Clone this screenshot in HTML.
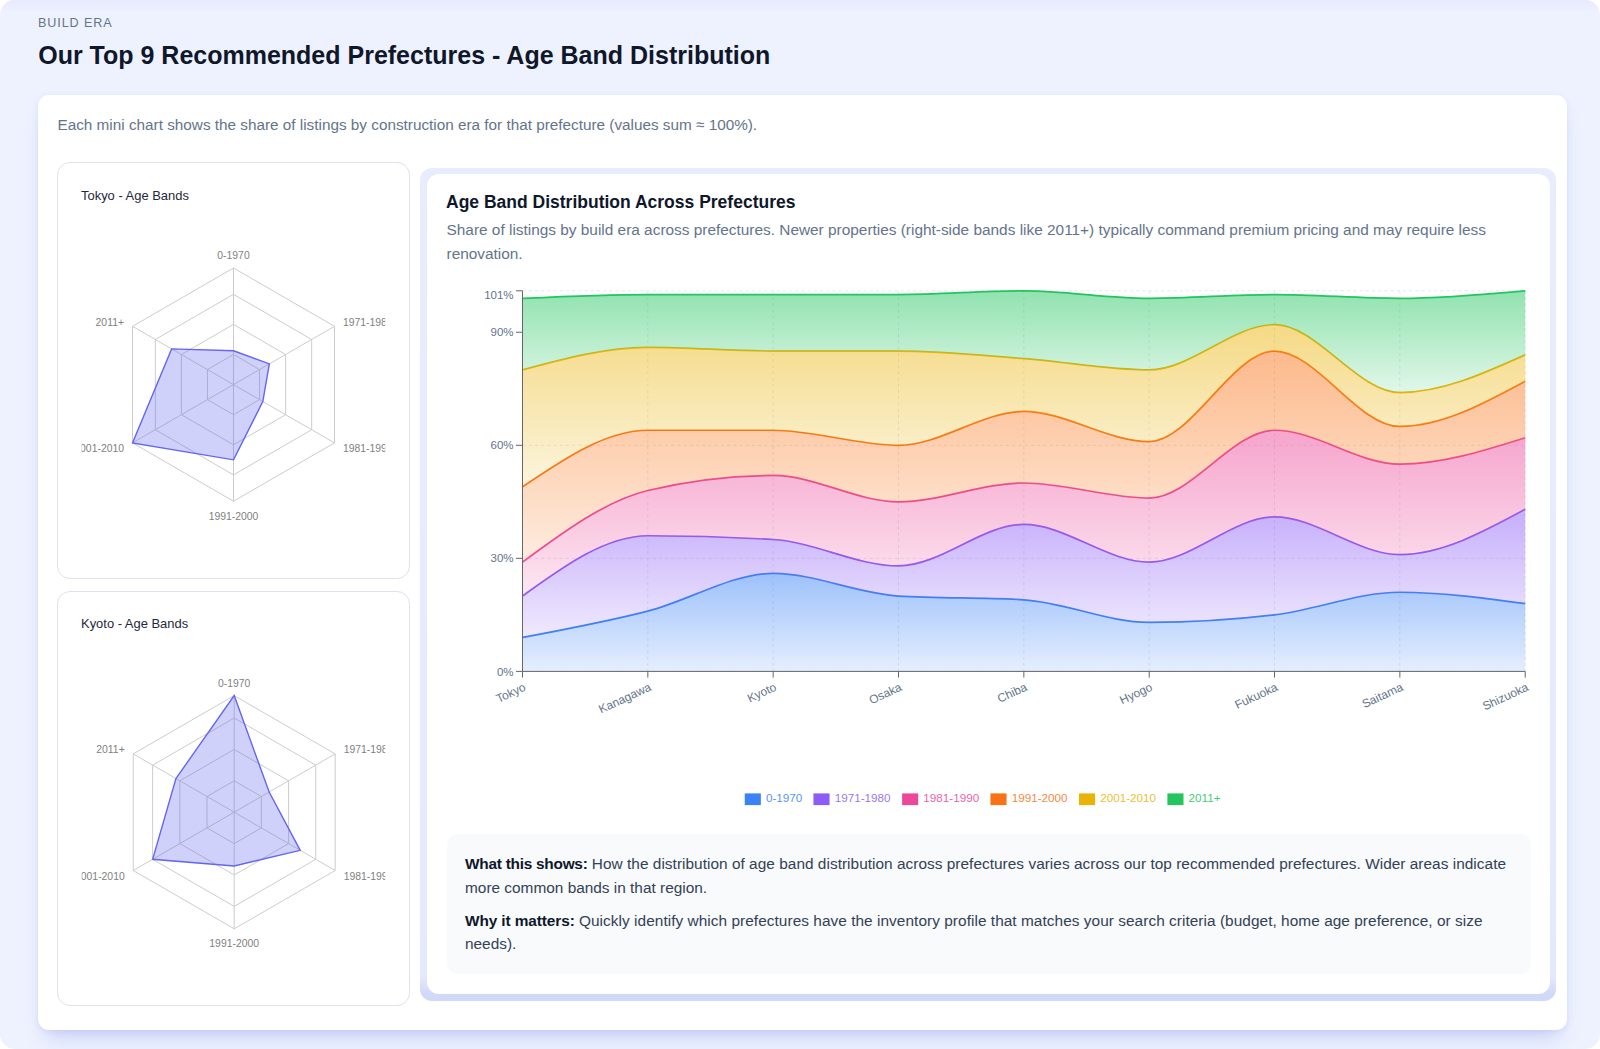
<!DOCTYPE html>
<html lang="en"><head><meta charset="utf-8"><title>Age Band Distribution</title>
<style>
*{box-sizing:border-box}
html,body{margin:0;padding:0;background:#fff}
body{font-family:"Liberation Sans",sans-serif;color:#0f172a;width:1600px;height:1049px;overflow:hidden;position:relative}
.section{position:absolute;left:0;top:0;width:1600px;height:1049px;background:linear-gradient(180deg,#e7e9fd 0px,#eef2fe 12px);border-radius:15px;overflow:hidden}
.abs{position:absolute;white-space:nowrap;line-height:1}
.eyebrow{left:38px;top:15.6px;font-size:12.6px;letter-spacing:0.9px;color:#64748b;line-height:14px}
h1{margin:0;left:38.2px;top:43.1px;font-size:25px;font-weight:700;color:#0f172a;line-height:29px}
.card{position:absolute;left:38px;top:94.8px;width:1529px;height:934.8px;background:#fff;border-radius:11px;box-shadow:0 1px 6px rgba(85,105,225,.10),0 14px 20px -8px rgba(85,105,225,.27)}
.sub{left:57.5px;top:116.4px;font-size:15.3px;color:#64748b;line-height:18px}
.mini{position:absolute;left:56.7px;width:353.8px;border:1px solid #dfe2ec;border-radius:13px;background:#fff}
.mini.a{top:162.4px;height:416.2px}
.mini.b{top:590.7px;height:415.6px}
.minit{font-size:12.95px;color:#1e293b;left:81px;line-height:15px}
.ring{position:absolute;left:419.8px;top:167.6px;width:1135.8px;height:833.1px;border-radius:12px;background:linear-gradient(180deg,#e9ecfd 0,#e5e9fc calc(100% - 26px),#d1d9f9 calc(100% - 7px));overflow:hidden}
.ring .shadow{position:absolute;left:7.2px;top:6.2px;width:1123.4px;height:820.1px;border-radius:12px;box-shadow:0 20px 40px -10px rgba(90,110,240,.30)}
.panel{position:absolute;left:427px;top:173.8px;width:1123.4px;height:820.1px;background:#fff;border-radius:12px}
.ptitle{left:446px;top:192px;font-size:17.5px;font-weight:700;color:#0f172a;line-height:20px}
.pdesc{left:446.5px;font-size:15.4px;color:#64748b;line-height:18px}
.info{position:absolute;left:446.7px;top:834.2px;width:1084.8px;height:139.7px;background:#f8fafc;border-radius:10px}
.it{left:465px;font-size:15.4px;color:#334155;line-height:18px}
.it b{color:#0f172a}
svg{position:absolute;left:0;top:0}
svg text{font-family:"Liberation Sans",sans-serif}
.ylab text{font-size:11.5px;fill:#64748b}
.xlab text{font-size:11.9px;fill:#64748b}
.leg text{font-size:11.7px;fill-opacity:.88}
.rlab text{font-size:10.4px;fill:#808080}
</style></head>
<body>
<div class="section">
<div class="abs eyebrow">BUILD ERA</div>
<h1 class="abs">Our Top 9 Recommended Prefectures - Age Band Distribution</h1>
<div class="card"></div>
<div class="abs sub">Each mini chart shows the share of listings by construction era for that prefecture (values sum ≈ 100%).</div>
<div class="mini a"></div>
<div class="mini b"></div>
<div class="abs minit" style="top:188px">Tokyo - Age Bands</div>
<div class="abs minit" style="top:616.3px">Kyoto - Age Bands</div>
<svg class="radars" width="1600" height="1049" viewBox="0 0 1600 1049">
<defs><clipPath id="rc"><rect x="81.6" y="170" width="303.6" height="830"/></clipPath></defs>
<g stroke="#ccc" stroke-width="1" fill="none"><polygon points="233.5,354.51 259.56,369.55 259.56,399.65 233.5,414.69 207.44,399.65 207.44,369.55"/><polygon points="233.5,324.42 285.62,354.51 285.62,414.69 233.5,444.78 181.38,414.69 181.38,354.51"/><polygon points="233.5,294.33 311.68,339.46 311.68,429.74 233.5,474.87 155.32,429.74 155.32,339.46"/><polygon points="233.5,268 334.48,326.3 334.48,442.9 233.5,501.2 132.52,442.9 132.52,326.3"/><line x1="233.5" y1="384.6" x2="233.5" y2="268"/><line x1="233.5" y1="384.6" x2="334.48" y2="326.3"/><line x1="233.5" y1="384.6" x2="334.48" y2="442.9"/><line x1="233.5" y1="384.6" x2="233.5" y2="501.2"/><line x1="233.5" y1="384.6" x2="132.52" y2="442.9"/><line x1="233.5" y1="384.6" x2="132.52" y2="326.3"/></g><polygon points="233.5,350.75 269.33,363.91 262.82,401.53 233.5,459.83 132.52,442.9 171.61,348.87" fill="#6366f1" fill-opacity="0.3" stroke="#6366f1" stroke-width="1.4"/><g class="rlab" clip-path="url(#rc)"><text x="233.5" y="259.2" text-anchor="middle">0-1970</text><text x="342.97" y="325.85" text-anchor="start">1971-1980</text><text x="342.97" y="452.45" text-anchor="start">1981-1990</text><text x="233.5" y="519.7" text-anchor="middle">1991-2000</text><text x="124.03" y="452.45" text-anchor="end">2001-2010</text><text x="124.03" y="325.85" text-anchor="end">2011+</text></g>
<g stroke="#ccc" stroke-width="1" fill="none"><polygon points="234.2,780.81 261.39,796.5 261.39,827.9 234.2,843.59 207.01,827.9 207.01,796.5"/><polygon points="234.2,749.42 288.57,780.81 288.57,843.59 234.2,874.98 179.83,843.59 179.83,780.81"/><polygon points="234.2,718.02 315.76,765.11 315.76,859.29 234.2,906.38 152.64,859.29 152.64,765.11"/><polygon points="234.2,695.6 335.18,753.9 335.18,870.5 234.2,928.8 133.22,870.5 133.22,753.9"/><line x1="234.2" y1="812.2" x2="234.2" y2="695.6"/><line x1="234.2" y1="812.2" x2="335.18" y2="753.9"/><line x1="234.2" y1="812.2" x2="335.18" y2="870.5"/><line x1="234.2" y1="812.2" x2="234.2" y2="928.8"/><line x1="234.2" y1="812.2" x2="133.22" y2="870.5"/><line x1="234.2" y1="812.2" x2="133.22" y2="753.9"/></g><polygon points="234.2,695.6 269.15,792.02 300.22,850.32 234.2,866.02 152.64,859.29 175.94,778.57" fill="#6366f1" fill-opacity="0.3" stroke="#6366f1" stroke-width="1.4"/><g class="rlab" clip-path="url(#rc)"><text x="234.2" y="686.8" text-anchor="middle">0-1970</text><text x="343.67" y="753.45" text-anchor="start">1971-1980</text><text x="343.67" y="880.05" text-anchor="start">1981-1990</text><text x="234.2" y="947.3" text-anchor="middle">1991-2000</text><text x="124.73" y="880.05" text-anchor="end">2001-2010</text><text x="124.73" y="753.45" text-anchor="end">2011+</text></g>
</svg>
<div class="ring"></div>
<div class="panel"></div>
<div class="abs ptitle">Age Band Distribution Across Prefectures</div>
<div class="abs pdesc" style="top:221.3px">Share of listings by build era across prefectures. Newer properties (right-side bands like 2011+) typically command premium pricing and may require less</div>
<div class="abs pdesc" style="top:244.8px">renovation.</div>
<svg class="chart" width="1600" height="1049" viewBox="0 0 1600 1049">
<defs><linearGradient id="g0" x1="0" y1="0" x2="0" y2="1"><stop offset="5%" stop-color="#3b82f6" stop-opacity="0.48"/><stop offset="95%" stop-color="#3b82f6" stop-opacity="0.15"/></linearGradient><linearGradient id="g1" x1="0" y1="0" x2="0" y2="1"><stop offset="5%" stop-color="#8b5cf6" stop-opacity="0.48"/><stop offset="95%" stop-color="#8b5cf6" stop-opacity="0.15"/></linearGradient><linearGradient id="g2" x1="0" y1="0" x2="0" y2="1"><stop offset="5%" stop-color="#ec4899" stop-opacity="0.48"/><stop offset="95%" stop-color="#ec4899" stop-opacity="0.15"/></linearGradient><linearGradient id="g3" x1="0" y1="0" x2="0" y2="1"><stop offset="5%" stop-color="#f97316" stop-opacity="0.48"/><stop offset="95%" stop-color="#f97316" stop-opacity="0.15"/></linearGradient><linearGradient id="g4" x1="0" y1="0" x2="0" y2="1"><stop offset="5%" stop-color="#eab308" stop-opacity="0.48"/><stop offset="95%" stop-color="#eab308" stop-opacity="0.15"/></linearGradient><linearGradient id="g5" x1="0" y1="0" x2="0" y2="1"><stop offset="5%" stop-color="#22c55e" stop-opacity="0.48"/><stop offset="95%" stop-color="#22c55e" stop-opacity="0.15"/></linearGradient></defs>
<g stroke="#e2e8f0" stroke-width="1" stroke-dasharray="3.1 3.1" fill="none"><line x1="522.5" x2="1525.2" y1="671.4" y2="671.4"/><line x1="522.5" x2="1525.2" y1="558.35" y2="558.35"/><line x1="522.5" x2="1525.2" y1="445.3" y2="445.3"/><line x1="522.5" x2="1525.2" y1="290.8" y2="290.8"/><line x1="522.5" x2="522.5" y1="290.8" y2="671.4"/><line x1="647.84" x2="647.84" y1="290.8" y2="671.4"/><line x1="773.17" x2="773.17" y1="290.8" y2="671.4"/><line x1="898.51" x2="898.51" y1="290.8" y2="671.4"/><line x1="1023.85" x2="1023.85" y1="290.8" y2="671.4"/><line x1="1149.19" x2="1149.19" y1="290.8" y2="671.4"/><line x1="1274.53" x2="1274.53" y1="290.8" y2="671.4"/><line x1="1399.86" x2="1399.86" y1="290.8" y2="671.4"/><line x1="1525.2" x2="1525.2" y1="290.8" y2="671.4"/></g>
<path d="M522.5,637.49C564.28,629.63,606.06,621.78,647.84,611.11C689.62,600.43,731.4,573.42,773.17,573.42C814.95,573.42,856.73,593.52,898.51,596.03C940.29,598.55,982.07,597.29,1023.85,599.8C1065.63,602.31,1107.41,622.41,1149.19,622.41C1190.97,622.41,1232.75,619.9,1274.53,614.88C1316.3,609.85,1358.08,592.27,1399.86,592.27C1441.64,592.27,1483.42,597.92,1525.2,603.57L1525.2,671.4C1483.42,671.4,1441.64,671.4,1399.86,671.4C1358.08,671.4,1316.3,671.4,1274.53,671.4C1232.75,671.4,1190.97,671.4,1149.19,671.4C1107.41,671.4,1065.63,671.4,1023.85,671.4C982.07,671.4,940.29,671.4,898.51,671.4C856.73,671.4,814.95,671.4,773.17,671.4C731.4,671.4,689.62,671.4,647.84,671.4C606.06,671.4,564.28,671.4,522.5,671.4Z" fill="url(#g0)"/>
<path d="M522.5,637.49C564.28,629.63,606.06,621.78,647.84,611.11C689.62,600.43,731.4,573.42,773.17,573.42C814.95,573.42,856.73,593.52,898.51,596.03C940.29,598.55,982.07,597.29,1023.85,599.8C1065.63,602.31,1107.41,622.41,1149.19,622.41C1190.97,622.41,1232.75,619.9,1274.53,614.88C1316.3,609.85,1358.08,592.27,1399.86,592.27C1441.64,592.27,1483.42,597.92,1525.2,603.57" fill="none" stroke="#3b82f6" stroke-width="1.7"/>
<path d="M522.5,596.03C564.28,565.89,606.06,535.74,647.84,535.74C689.62,535.74,731.4,537,773.17,539.51C814.95,542.02,856.73,565.89,898.51,565.89C940.29,565.89,982.07,524.44,1023.85,524.44C1065.63,524.44,1107.41,562.12,1149.19,562.12C1190.97,562.12,1232.75,516.9,1274.53,516.9C1316.3,516.9,1358.08,554.58,1399.86,554.58C1441.64,554.58,1483.42,531.97,1525.2,509.36L1525.2,603.57C1483.42,597.92,1441.64,592.27,1399.86,592.27C1358.08,592.27,1316.3,609.85,1274.53,614.88C1232.75,619.9,1190.97,622.41,1149.19,622.41C1107.41,622.41,1065.63,602.31,1023.85,599.8C982.07,597.29,940.29,598.55,898.51,596.03C856.73,593.52,814.95,573.42,773.17,573.42C731.4,573.42,689.62,600.43,647.84,611.11C606.06,621.78,564.28,629.63,522.5,637.49Z" fill="url(#g1)"/>
<path d="M522.5,596.03C564.28,565.89,606.06,535.74,647.84,535.74C689.62,535.74,731.4,537,773.17,539.51C814.95,542.02,856.73,565.89,898.51,565.89C940.29,565.89,982.07,524.44,1023.85,524.44C1065.63,524.44,1107.41,562.12,1149.19,562.12C1190.97,562.12,1232.75,516.9,1274.53,516.9C1316.3,516.9,1358.08,554.58,1399.86,554.58C1441.64,554.58,1483.42,531.97,1525.2,509.36" fill="none" stroke="#8b5cf6" stroke-width="1.7"/>
<path d="M522.5,562.12C564.28,531.34,606.06,500.57,647.84,490.52C689.62,480.47,731.4,475.45,773.17,475.45C814.95,475.45,856.73,501.83,898.51,501.83C940.29,501.83,982.07,482.98,1023.85,482.98C1065.63,482.98,1107.41,498.06,1149.19,498.06C1190.97,498.06,1232.75,430.23,1274.53,430.23C1316.3,430.23,1358.08,464.14,1399.86,464.14C1441.64,464.14,1483.42,450.95,1525.2,437.76L1525.2,509.36C1483.42,531.97,1441.64,554.58,1399.86,554.58C1358.08,554.58,1316.3,516.9,1274.53,516.9C1232.75,516.9,1190.97,562.12,1149.19,562.12C1107.41,562.12,1065.63,524.44,1023.85,524.44C982.07,524.44,940.29,565.89,898.51,565.89C856.73,565.89,814.95,542.02,773.17,539.51C731.4,537,689.62,535.74,647.84,535.74C606.06,535.74,564.28,565.89,522.5,596.03Z" fill="url(#g2)"/>
<path d="M522.5,562.12C564.28,531.34,606.06,500.57,647.84,490.52C689.62,480.47,731.4,475.45,773.17,475.45C814.95,475.45,856.73,501.83,898.51,501.83C940.29,501.83,982.07,482.98,1023.85,482.98C1065.63,482.98,1107.41,498.06,1149.19,498.06C1190.97,498.06,1232.75,430.23,1274.53,430.23C1316.3,430.23,1358.08,464.14,1399.86,464.14C1441.64,464.14,1483.42,450.95,1525.2,437.76" fill="none" stroke="#ec4899" stroke-width="1.7"/>
<path d="M522.5,486.75C564.28,458.49,606.06,430.23,647.84,430.23C689.62,430.23,731.4,430.23,773.17,430.23C814.95,430.23,856.73,445.3,898.51,445.3C940.29,445.3,982.07,411.39,1023.85,411.39C1065.63,411.39,1107.41,441.53,1149.19,441.53C1190.97,441.53,1232.75,351.09,1274.53,351.09C1316.3,351.09,1358.08,426.46,1399.86,426.46C1441.64,426.46,1483.42,403.85,1525.2,381.24L1525.2,437.76C1483.42,450.95,1441.64,464.14,1399.86,464.14C1358.08,464.14,1316.3,430.23,1274.53,430.23C1232.75,430.23,1190.97,498.06,1149.19,498.06C1107.41,498.06,1065.63,482.98,1023.85,482.98C982.07,482.98,940.29,501.83,898.51,501.83C856.73,501.83,814.95,475.45,773.17,475.45C731.4,475.45,689.62,480.47,647.84,490.52C606.06,500.57,564.28,531.34,522.5,562.12Z" fill="url(#g3)"/>
<path d="M522.5,486.75C564.28,458.49,606.06,430.23,647.84,430.23C689.62,430.23,731.4,430.23,773.17,430.23C814.95,430.23,856.73,445.3,898.51,445.3C940.29,445.3,982.07,411.39,1023.85,411.39C1065.63,411.39,1107.41,441.53,1149.19,441.53C1190.97,441.53,1232.75,351.09,1274.53,351.09C1316.3,351.09,1358.08,426.46,1399.86,426.46C1441.64,426.46,1483.42,403.85,1525.2,381.24" fill="none" stroke="#f97316" stroke-width="1.7"/>
<path d="M522.5,369.93C564.28,358.63,606.06,347.32,647.84,347.32C689.62,347.32,731.4,351.09,773.17,351.09C814.95,351.09,856.73,351.09,898.51,351.09C940.29,351.09,982.07,355.49,1023.85,358.63C1065.63,361.77,1107.41,369.93,1149.19,369.93C1190.97,369.93,1232.75,324.71,1274.53,324.71C1316.3,324.71,1358.08,392.54,1399.86,392.54C1441.64,392.54,1483.42,373.7,1525.2,354.86L1525.2,381.24C1483.42,403.85,1441.64,426.46,1399.86,426.46C1358.08,426.46,1316.3,351.09,1274.53,351.09C1232.75,351.09,1190.97,441.53,1149.19,441.53C1107.41,441.53,1065.63,411.39,1023.85,411.39C982.07,411.39,940.29,445.3,898.51,445.3C856.73,445.3,814.95,430.23,773.17,430.23C731.4,430.23,689.62,430.23,647.84,430.23C606.06,430.23,564.28,458.49,522.5,486.75Z" fill="url(#g4)"/>
<path d="M522.5,369.93C564.28,358.63,606.06,347.32,647.84,347.32C689.62,347.32,731.4,351.09,773.17,351.09C814.95,351.09,856.73,351.09,898.51,351.09C940.29,351.09,982.07,355.49,1023.85,358.63C1065.63,361.77,1107.41,369.93,1149.19,369.93C1190.97,369.93,1232.75,324.71,1274.53,324.71C1316.3,324.71,1358.08,392.54,1399.86,392.54C1441.64,392.54,1483.42,373.7,1525.2,354.86" fill="none" stroke="#eab308" stroke-width="1.7"/>
<path d="M522.5,298.34C564.28,296.45,606.06,294.57,647.84,294.57C689.62,294.57,731.4,294.57,773.17,294.57C814.95,294.57,856.73,294.57,898.51,294.57C940.29,294.57,982.07,290.8,1023.85,290.8C1065.63,290.8,1107.41,298.34,1149.19,298.34C1190.97,298.34,1232.75,294.57,1274.53,294.57C1316.3,294.57,1358.08,298.34,1399.86,298.34C1441.64,298.34,1483.42,294.57,1525.2,290.8L1525.2,354.86C1483.42,373.7,1441.64,392.54,1399.86,392.54C1358.08,392.54,1316.3,324.71,1274.53,324.71C1232.75,324.71,1190.97,369.93,1149.19,369.93C1107.41,369.93,1065.63,361.77,1023.85,358.63C982.07,355.49,940.29,351.09,898.51,351.09C856.73,351.09,814.95,351.09,773.17,351.09C731.4,351.09,689.62,347.32,647.84,347.32C606.06,347.32,564.28,358.63,522.5,369.93Z" fill="url(#g5)"/>
<path d="M522.5,298.34C564.28,296.45,606.06,294.57,647.84,294.57C689.62,294.57,731.4,294.57,773.17,294.57C814.95,294.57,856.73,294.57,898.51,294.57C940.29,294.57,982.07,290.8,1023.85,290.8C1065.63,290.8,1107.41,298.34,1149.19,298.34C1190.97,298.34,1232.75,294.57,1274.53,294.57C1316.3,294.57,1358.08,298.34,1399.86,298.34C1441.64,298.34,1483.42,294.57,1525.2,290.8" fill="none" stroke="#22c55e" stroke-width="1.7"/>

<g stroke="#666" stroke-width="1" fill="none"><line x1="522.5" x2="1525.2" y1="671.4" y2="671.4"/><line x1="522.5" x2="522.5" y1="290.8" y2="671.4"/><line x1="522.5" x2="522.5" y1="671.4" y2="677.6"/><line x1="647.84" x2="647.84" y1="671.4" y2="677.6"/><line x1="773.17" x2="773.17" y1="671.4" y2="677.6"/><line x1="898.51" x2="898.51" y1="671.4" y2="677.6"/><line x1="1023.85" x2="1023.85" y1="671.4" y2="677.6"/><line x1="1149.19" x2="1149.19" y1="671.4" y2="677.6"/><line x1="1274.53" x2="1274.53" y1="671.4" y2="677.6"/><line x1="1399.86" x2="1399.86" y1="671.4" y2="677.6"/><line x1="1525.2" x2="1525.2" y1="671.4" y2="677.6"/><line x1="516" x2="522.5" y1="671.4" y2="671.4"/><line x1="516" x2="522.5" y1="558.35" y2="558.35"/><line x1="516" x2="522.5" y1="445.3" y2="445.3"/><line x1="516" x2="522.5" y1="332.25" y2="332.25"/><line x1="516" x2="522.5" y1="290.8" y2="290.8"/></g>
<g class="ylab"><text x="513.6" y="675.5" text-anchor="end">0%</text><text x="513.6" y="562.45" text-anchor="end">30%</text><text x="513.6" y="449.4" text-anchor="end">60%</text><text x="513.6" y="336.35" text-anchor="end">90%</text><text x="513.6" y="298.8" text-anchor="end">101%</text></g>
<g class="xlab"><text transform="translate(523,682.2) rotate(-25)" text-anchor="end" dy="0.71em">Tokyo</text><text transform="translate(648.34,682.2) rotate(-25)" text-anchor="end" dy="0.71em">Kanagawa</text><text transform="translate(773.67,682.2) rotate(-25)" text-anchor="end" dy="0.71em">Kyoto</text><text transform="translate(899.01,682.2) rotate(-25)" text-anchor="end" dy="0.71em">Osaka</text><text transform="translate(1024.35,682.2) rotate(-25)" text-anchor="end" dy="0.71em">Chiba</text><text transform="translate(1149.69,682.2) rotate(-25)" text-anchor="end" dy="0.71em">Hyogo</text><text transform="translate(1275.03,682.2) rotate(-25)" text-anchor="end" dy="0.71em">Fukuoka</text><text transform="translate(1400.36,682.2) rotate(-25)" text-anchor="end" dy="0.71em">Saitama</text><text transform="translate(1525.7,682.2) rotate(-25)" text-anchor="end" dy="0.71em">Shizuoka</text></g>
<g class="leg"><rect x="744.75" y="793.4" width="16.1" height="11.7" fill="#3b82f6"/><text x="765.95" y="802.0" fill="#3b82f6">0-1970</text><rect x="813.45" y="793.4" width="16.1" height="11.7" fill="#8b5cf6"/><text x="834.65" y="802.0" fill="#8b5cf6">1971-1980</text><rect x="902.1" y="793.4" width="16.1" height="11.7" fill="#ec4899"/><text x="923.3" y="802.0" fill="#ec4899">1981-1990</text><rect x="990.45" y="793.4" width="16.1" height="11.7" fill="#f97316"/><text x="1011.65" y="802.0" fill="#f97316">1991-2000</text><rect x="1079.0" y="793.4" width="16.1" height="11.7" fill="#eab308"/><text x="1100.2" y="802.0" fill="#eab308">2001-2010</text><rect x="1167.4" y="793.4" width="16.1" height="11.7" fill="#22c55e"/><text x="1188.6" y="802.0" fill="#22c55e">2011+</text></g>
</svg>
<div class="info"></div>
<div class="abs it" style="top:855.2px;letter-spacing:.03px"><b style="letter-spacing:-.25px">What this shows:</b> How the distribution of age band distribution across prefectures varies across our top recommended prefectures. Wider areas indicate</div>
<div class="abs it" style="top:878.7px">more common bands in that region.</div>
<div class="abs it" style="top:911.8px;letter-spacing:.047px"><b style="letter-spacing:-.1px">Why it matters:</b> Quickly identify which prefectures have the inventory profile that matches your search criteria (budget, home age preference, or size</div>
<div class="abs it" style="top:935.2px">needs).</div>
</div>
</body></html>
